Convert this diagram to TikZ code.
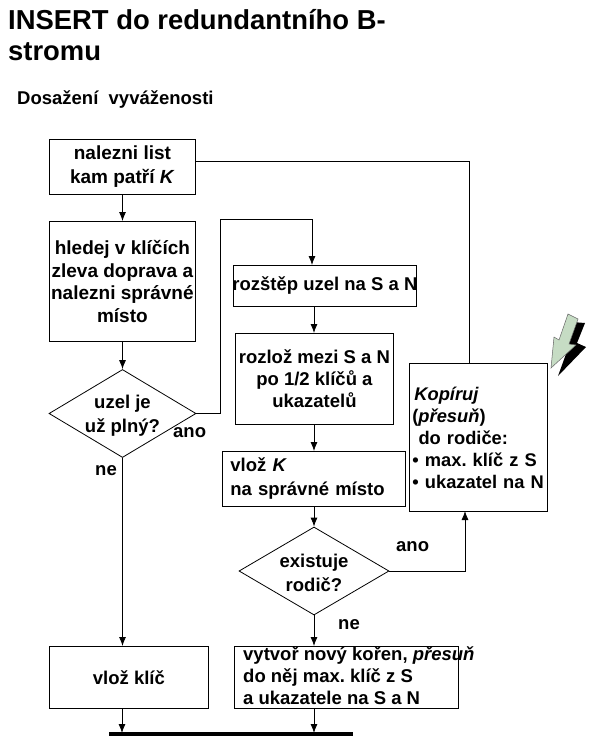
\documentclass[tikz,border=0pt]{standalone}
\usepackage{fontspec}
\setmainfont{Liberation Sans}
\usepackage{tikz}
\usetikzlibrary{arrows.meta,shapes.geometric}
\definecolor{bleskGreen}{HTML}{C6DCC4}
\frenchspacing
\tikzset{
  krok/.style={draw=black, line width=0.8pt, align=center, font=\fontsize{18.5}{24}\bfseries\selectfont, inner sep=0pt, anchor=north west},
  volba/.style={draw=black, line width=0.8pt, diamond, aspect=1.67, align=center, font=\fontsize{18.5}{24}\bfseries\selectfont, inner sep=-3pt},
  popis/.style={font=\fontsize{18.5}{19}\bfseries\selectfont, inner sep=0pt},
  arrflow/.style={-{Latex[length=9pt,width=7pt]}, line width=0.8pt},
}
\begin{document}
\begin{tikzpicture}[x=1pt,y=-1pt]
\useasboundingbox (0,0) rectangle (592,736);
\node[popis, font=\fontsize{27.4}{31}\bfseries\selectfont, align=left, anchor=north west] (nadpis) at (8,9) {INSERT do redundantního B-\\stromu};
\node[popis, anchor=west] (podnadpis) at (17,100) {Dosažení\ \ vyváženosti};
% leva vetev
\node[krok, minimum width=146pt, minimum height=55pt, font=\fontsize{19}{24}\bfseries\selectfont] (najdi) at (49,139) {nalezni list\\kam patří \textit{K}};
\node[krok, minimum width=146pt, minimum height=120pt, font=\fontsize{19}{22.5}\bfseries\selectfont] (hledej) at (49,221) {hledej v klíčích\\zleva doprava a\\nalezni správné\\místo};
\node[volba, minimum width=147pt, minimum height=88pt] (plny) at (122.5,413.5) {\rule{0pt}{17pt}uzel je\\už plný?};
\node[krok, minimum width=159pt, minimum height=62pt] (vlozklic) at (49,646) {vlož klíč};
% prava vetev
\node[krok, minimum width=183pt, minimum height=41pt] (rozstep) at (233,265) {\makebox[183pt][c]{rozštěp uzel na S a N}};
\node[krok, minimum width=158pt, minimum height=91pt, font=\fontsize{18.5}{22}\bfseries\selectfont] (rozloz) at (235,333) {rozlož mezi S a N\\po 1/2 klíčů a\\ukazatelů};
\node[krok, minimum height=55pt, align=left, text width=167pt, inner xsep=8pt] (vlozK) at (222,451) {vlož \textit{K}\\na správné místo};
\node[volba, minimum width=150pt, minimum height=88pt] (rodic) at (314,571) {\rule{0pt}{17pt}existuje\\rodič?};
\node[krok, minimum width=224pt, minimum height=62pt] (koren) at (234,646) {};
\node[popis, font=\fontsize{18.5}{22}\bfseries\selectfont, align=left, anchor=west] (korentext) at (243,675.5) {vytvoř nový kořen, \textit{přesuň}\\do něj max. klíč z S\\a ukazatele na S a N};
\node[krok, minimum height=148pt, align=left, text width=132pt, inner xsep=3pt, font=\fontsize{18.3}{22}\bfseries\selectfont] (kopiruj) at (409,363) {\textit{\kern2pt Kopíruj}\\(\textit{přesuň})\\\ do rodiče:\\\mbox{• max. klíč z S}\\\mbox{• ukazatel na N}};
% spojnice
\draw[arrflow] (najdi.south -| plny) -- (plny |- hledej.north);
\draw[arrflow] (plny |- hledej.south) -- (plny.north);
\draw[arrflow] (plny.south) -- (plny |- vlozklic.north);
\draw[arrflow] (plny.east) -| (220,219) -| (312,265);
\draw[arrflow] (314,306) -- (314,333);
\draw[arrflow] (314,424) -- (314,451);
\draw[arrflow] (314,506) -- (rodic.north);
\draw[arrflow] (rodic.south) -- (koren.north -| rodic);
\draw[arrflow] (rodic.east) -| (465,511);
\draw[line width=0.8pt] (469,363) |- (najdi.east |- 0,161);
\coordinate (lista) at (122,733);
\draw[arrflow] (lista |- vlozklic.south) -- (lista);
\draw[arrflow] (rodic |- koren.south) -- (rodic |- lista);
\draw[line width=4pt] (109,734) -- (353,734);
% popisky
\node[popis, anchor=west] (ano1) at (173,433) {ano};
\node[popis, anchor=west] (ne1) at (95,471) {ne};
\node[popis, anchor=west] (ano2) at (396,547) {ano};
\node[popis, anchor=west] (ne2) at (338,625) {ne};
% blesk
\fill[black] (585,323) -- (577,343) -- (586,347) -- (558,376) -- (566,354) -- (558,351) -- (572,322) -- cycle;
\filldraw[fill=bleskGreen, draw=black!60, line width=0.5pt] (568,314) -- (578,319) -- (569,344) -- (576,345) -- (551,368) -- (554,337) -- (559,340) -- cycle;
\end{tikzpicture}
\end{document}
